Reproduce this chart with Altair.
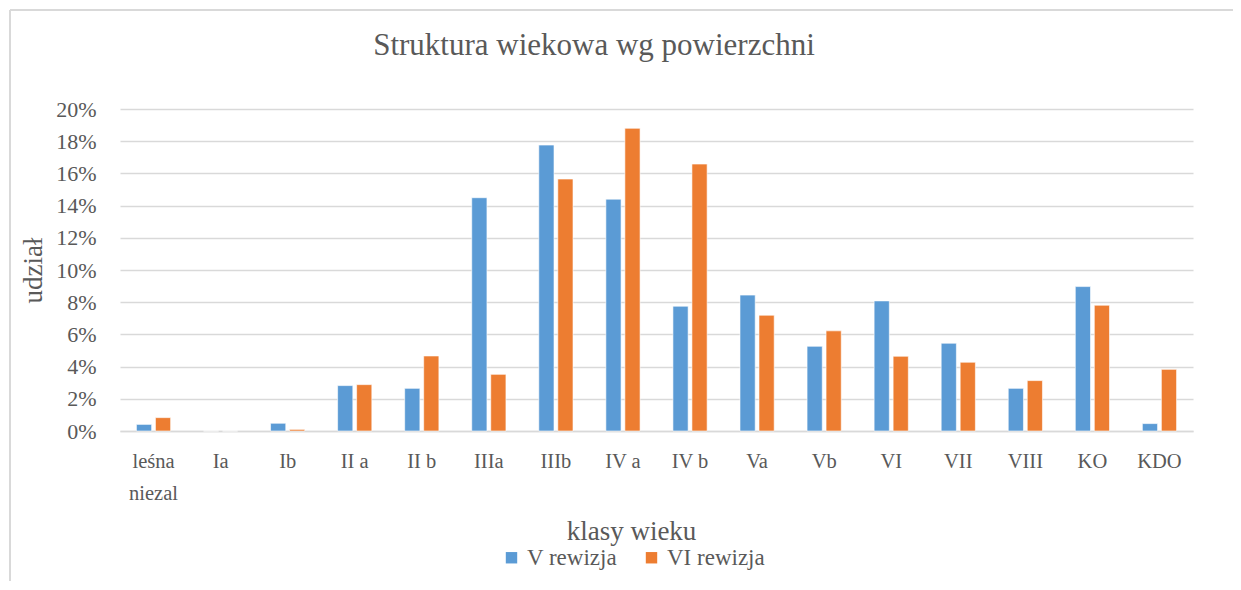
import altair as alt
import pandas as pd

categories = ["leśna niezal", "Ia", "Ib", "II a", "II b", "IIIa", "IIIb", "IV a",
              "IV b", "Va", "Vb", "VI", "VII", "VIII", "KO", "KDO"]
v_rewizja = [0.0041, 0.0, 0.0048, 0.0282, 0.0265, 0.1449, 0.1776, 0.1440,
             0.0775, 0.0844, 0.0526, 0.0808, 0.0545, 0.0265, 0.0897, 0.0046]
vi_rewizja = [0.0083, 0.0, 0.0010, 0.0288, 0.0466, 0.0352, 0.1565, 0.1880,
              0.1658, 0.0719, 0.0622, 0.0464, 0.0427, 0.0313, 0.0781, 0.0383]
series = ["V rewizja", "VI rewizja"]
colors = ["#5B9BD5", "#ED7D31"]
y_ticks = [0, 0.02, 0.04, 0.06, 0.08, 0.10, 0.12, 0.14, 0.16, 0.18, 0.20]
title_text = "Struktura wiekowa wg powierzchni"

rows = []
for c, a, b in zip(categories, v_rewizja, vi_rewizja):
    rows.append({"klasa": c, "seria": series[0], "udzial": a})
    rows.append({"klasa": c, "seria": series[1], "udzial": b})
df = pd.DataFrame(rows)

FONT = "Liberation Serif"
GRAY = "#595959"
LINE = "#d9d9d9"

bars = alt.Chart(df).mark_bar(stroke="white", strokeWidth=0.6).encode(
    x=alt.X("klasa:N", sort=categories,
            scale=alt.Scale(paddingInner=0.49, paddingOuter=0.245),
            axis=alt.Axis(title="klasy wieku", labelAngle=0, ticks=False,
                          domainColor=LINE, domainWidth=1.5,
                          labelFont=FONT, labelFontSize=20.5, labelColor=GRAY,
                          labelPadding=20, labelLineHeight=32,
                          labelExpr="datum.label == 'leśna niezal' ? ['leśna', 'niezal'] : datum.label",
                          titleFont=FONT, titleFontSize=27, titleFontWeight="normal",
                          titleColor=GRAY, titleX=511, titleY=100, titleBaseline="middle")),
    xOffset=alt.XOffset("seria:N", sort=series,
                        scale=alt.Scale(paddingInner=0.2, paddingOuter=0)),
    y=alt.Y("udzial:Q", scale=alt.Scale(domain=[0, 0.2], nice=False),
            axis=alt.Axis(title="udział", values=y_ticks, format=".0%",
                          ticks=False, domain=False, gridColor=LINE, gridWidth=1.3,
                          labelFont=FONT, labelFontSize=22, labelColor=GRAY,
                          labelPadding=24,
                          titleFont=FONT, titleFontSize=27, titleFontWeight="normal",
                          titleColor=GRAY, titleX=-87, titleY=161,
                          titleBaseline="middle", titleAngle=-90)),
    color=alt.Color("seria:N", sort=series,
                    scale=alt.Scale(domain=series, range=colors),
                    legend=alt.Legend(title=None, orient="none", direction="horizontal",
                                      legendX=380, legendY=437,
                                      symbolType="square", symbolSize=130,
                                      symbolStrokeWidth=0,
                                      labelFont=FONT, labelFontSize=23, labelColor=GRAY,
                                      columnPadding=22, labelOffset=4)),
)

frame_top = alt.Chart(df).mark_rule(color=LINE, strokeWidth=2).encode(
    x=alt.value(-110), x2=alt.value(1200), y=alt.value(-99))
frame_left = alt.Chart(df).mark_rule(color=LINE, strokeWidth=2).encode(
    x=alt.value(-110), y=alt.value(-99), y2=alt.value(600))

title_df = pd.DataFrame({"t": [title_text]})
title = alt.Chart(title_df).mark_text(
    font=FONT, fontSize=31, color=GRAY, align="center", baseline="alphabetic"
).encode(text="t:N", x=alt.value(474), y=alt.value(-54))

chart = alt.layer(frame_top, frame_left, bars, title).properties(
    width=1073, height=322,
    autosize=alt.AutoSizeParams(type="none"),
    padding={"left": 112, "top": 101, "right": 40, "bottom": 150},
).configure_view(stroke=None).configure_legend(labelFont=FONT)

chart.save("out.html", embed_options={"renderer": "svg", "actions": False})
